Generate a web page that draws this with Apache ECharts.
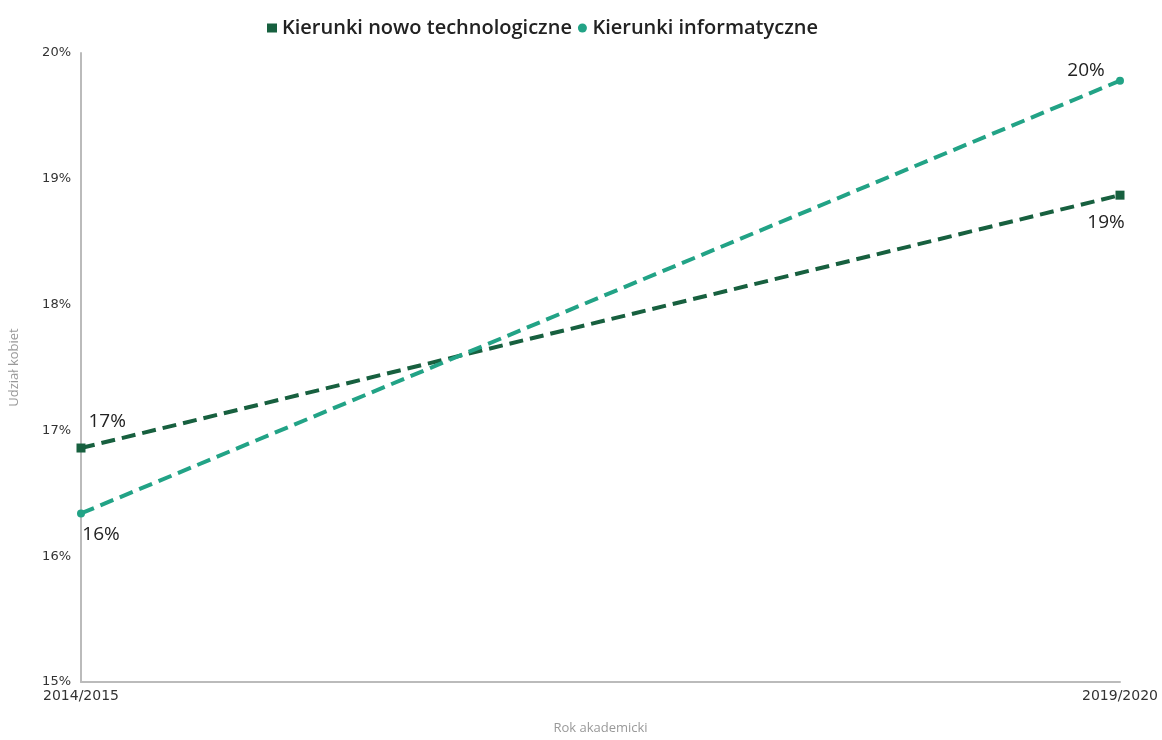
<!DOCTYPE html>
<html><head><meta charset="utf-8">
<script src="https://cdn.jsdelivr.net/npm/echarts@6/dist/echarts.min.js"></script>
<style>html,body{margin:0;padding:0;background:#fff}#c{width:1162px;height:740px}</style>
</head><body><div id="c"></div>
<script>
const categories = ['2014/2015', '2019/2020'];
const seriesNames = ['Kierunki nowo technologiczne', 'Kierunki informatyczne'];
const techValues = [16.86, 18.87];
const infoValues = [16.34, 19.78];
const yTicks = [15, 16, 17, 18, 19, 20];

const colors = ['#17603f', '#22a386'];
const chart = echarts.init(document.getElementById('c'));
const lbl = (pos, off) => ({
  show: true, position: pos, offset: off,
  formatter: p => Math.round(p.value) + '%',
  fontFamily: 'Open Sans', fontSize: 19, color: '#222'
});
chart.setOption({
  animation: false,
  legend: {
    top: 13, left: 262, itemGap: 6, itemWidth: 10, itemHeight: 9,
    textStyle: { fontFamily: 'Open Sans', fontWeight: 600, fontSize: 20, color: '#222' },
    data: [{ name: seriesNames[0], icon: 'rect' }, { name: seriesNames[1], icon: 'circle' }]
  },
  grid: { left: 80, right: 42, top: 53, bottom: 53, containLabel: false },
  xAxis: {
    type: 'category', data: categories, boundaryGap: false,
    name: 'Rok akademicki', nameLocation: 'middle', nameGap: 40,
    nameTextStyle: { color: '#999', fontSize: 13, fontFamily: 'Open Sans' },
    axisLine: { lineStyle: { color: '#bbb', width: 2 } },
    axisTick: { show: false },
    axisLabel: { color: '#333', fontSize: 14, fontFamily: 'DejaVu Sans', margin: 7,
      alignMinLabel: 'center', alignMaxLabel: 'center' }
  },
  yAxis: {
    type: 'value', min: yTicks[0], max: yTicks[yTicks.length - 1], interval: 1,
    name: 'Udział kobiet', nameLocation: 'middle', nameGap: 60,
    nameTextStyle: { color: '#999', fontSize: 13, fontFamily: 'Open Sans' },
    axisLine: { show: true, lineStyle: { color: '#bbb', width: 2 } },
    axisTick: { show: false },
    splitLine: { show: false },
    axisLabel: { color: '#333', fontSize: 13, fontFamily: 'DejaVu Sans', margin: 10,
      formatter: v => v + '%' }
  },
  series: [
    {
      name: seriesNames[0], type: 'line',
      symbol: 'rect', symbolSize: 9, color: colors[0],
      lineStyle: { width: 4, type: [14, 7], color: colors[0] },
      data: techValues.map((v, i) => ({
        value: v,
        label: i === 0 ? lbl('right', [-2, -26]) : lbl('bottom', [-14, 8])
      }))
    },
    {
      name: seriesNames[1], type: 'line',
      symbol: 'circle', symbolSize: 8, color: colors[1],
      lineStyle: { width: 4, type: [14, 7], color: colors[1] },
      data: infoValues.map((v, i) => ({
        value: v,
        label: i === 0 ? lbl('bottom', [20, 3]) : lbl('top', [-34, 8])
      }))
    }
  ]
});
</script></body></html>
